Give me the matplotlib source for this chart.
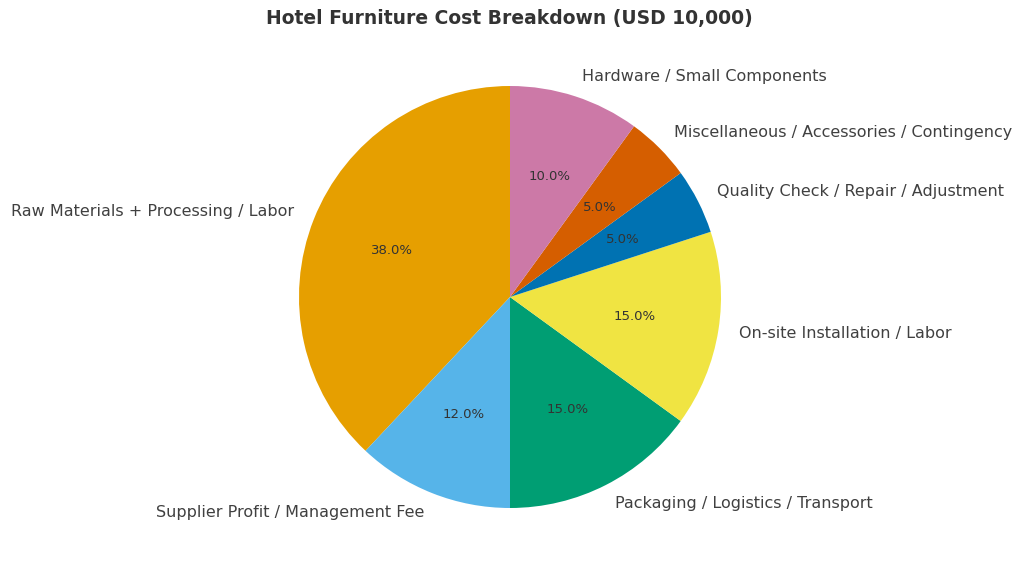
import matplotlib
matplotlib.use('Agg')
import matplotlib.pyplot as plt

labels = [
    'Raw Materials + Processing / Labor',
    'Supplier Profit / Management Fee',
    'Packaging / Logistics / Transport',
    'On-site Installation / Labor',
    'Quality Check / Repair / Adjustment',
    'Miscellaneous / Accessories / Contingency',
    'Hardware / Small Components',
]
shares = [38, 12, 15, 15, 5, 5, 10]
colors = ['#E69F00', '#56B4E9', '#009E73', '#F0E442', '#0072B2', '#D55E00', '#CC79A7']

fig = plt.figure(figsize=(10.24, 5.71), dpi=100)

# square axes placed so the pie sits where it does in the reference
span = 1.2
size_px = 211 * 2 * span
cx, cy = 510, 571 - 297
ax = fig.add_axes([(cx - size_px / 2) / 1024, (cy - size_px / 2) / 571,
                   size_px / 1024, size_px / 571])

wedges, texts, autotexts = ax.pie(
    shares, labels=labels, colors=colors, autopct='%1.1f%%',
    startangle=90, counterclock=True, pctdistance=0.6, labeldistance=1.1,
    textprops={'fontsize': 11.5, 'color': '#404040'},
)
for t in autotexts:
    t.set_fontsize(9.5)
    t.set_color('#333333')

ax.set_xlim(-span, span)
ax.set_ylim(-span, span)
ax.set_aspect('equal')
ax.axis('off')

fig.text(0.497, 0.967, 'Hotel Furniture Cost Breakdown (USD 10,000)',
         ha='center', va='center', fontsize=13.5, fontweight='bold', color='#333333')

plt.savefig('out.png', dpi=100)
plt.close()
